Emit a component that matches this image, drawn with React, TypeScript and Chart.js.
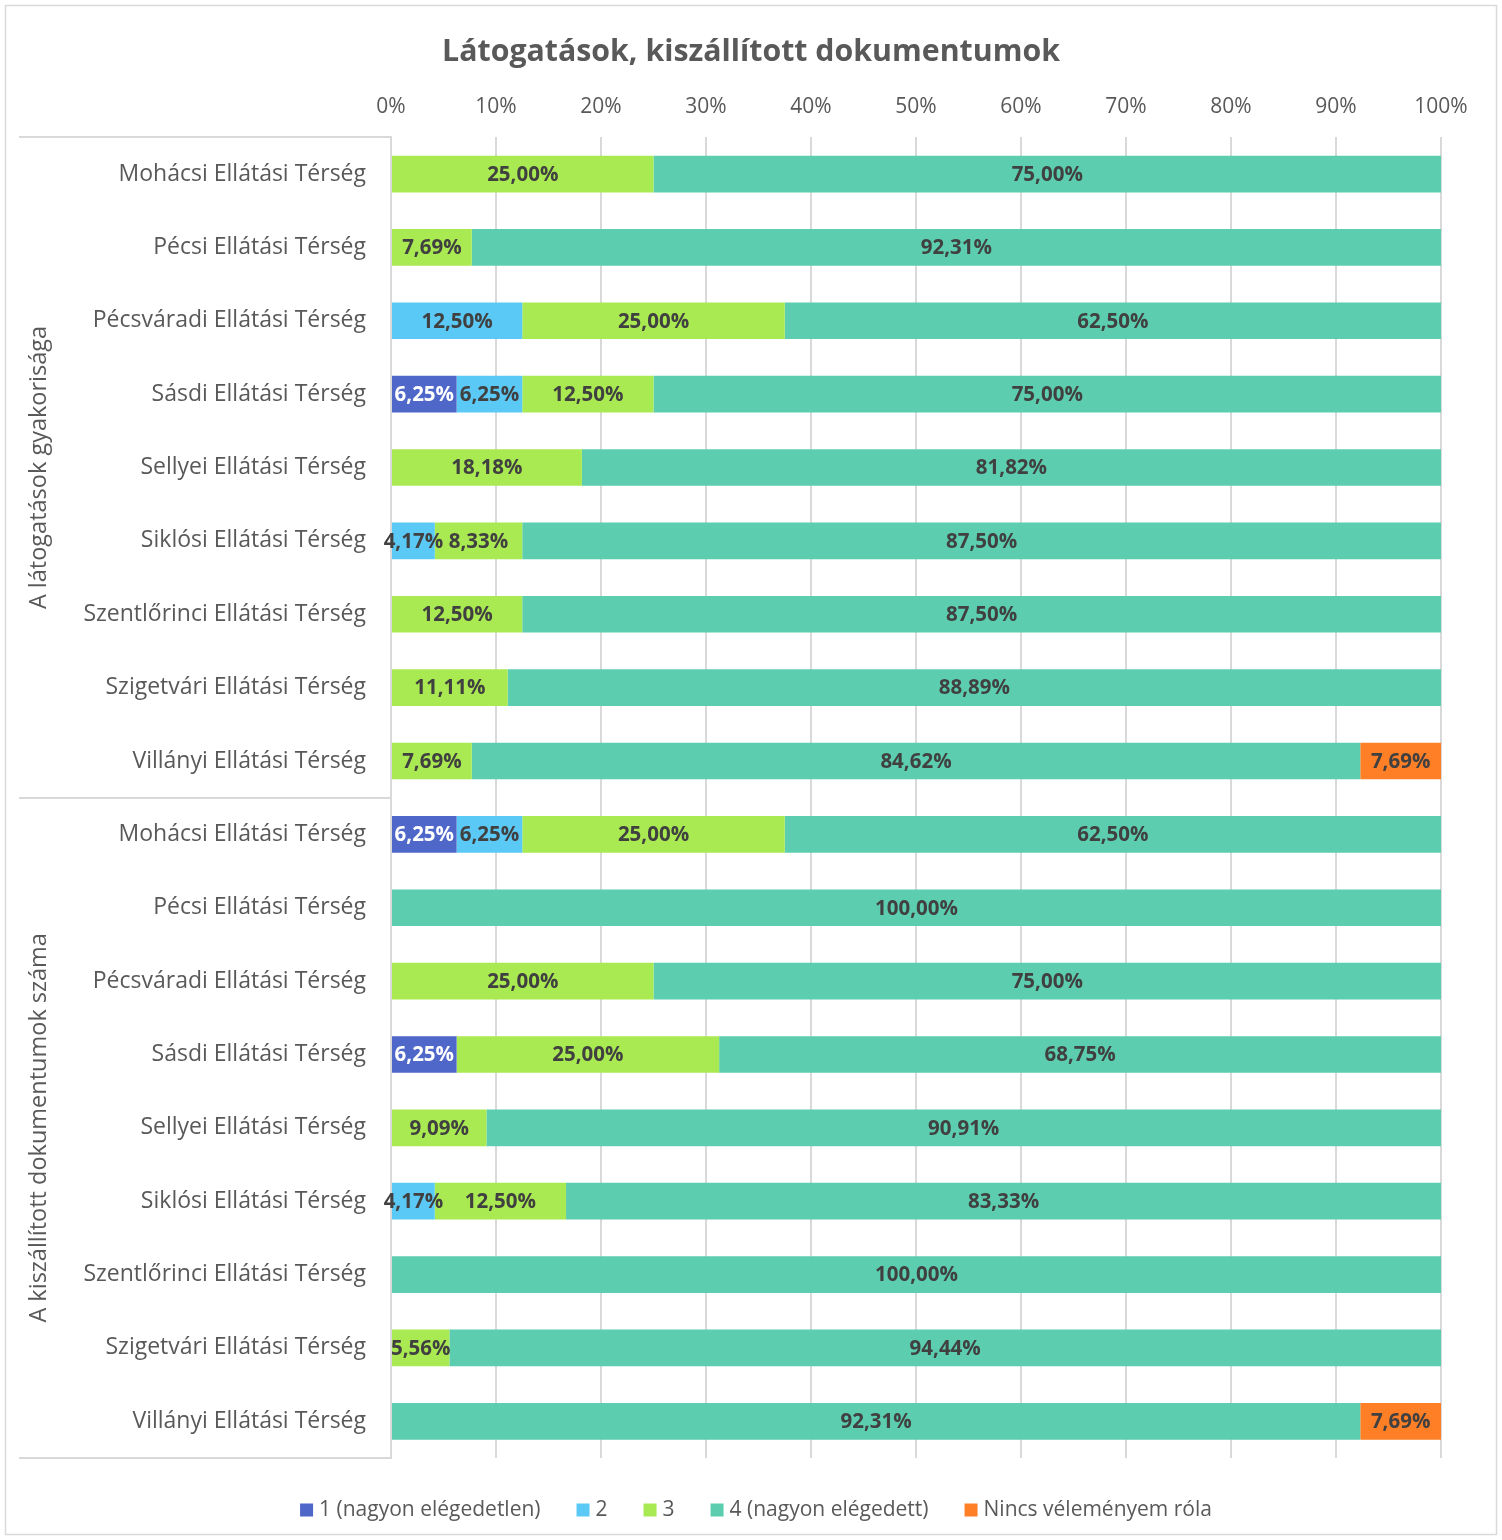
import { useEffect, useRef } from 'react';
import { Chart, registerables } from 'chart.js';

Chart.register(...registerables);

const chartTitle = 'Látogatások, kiszállított dokumentumok';
const categories = [
  'Mohácsi Ellátási Térség',
  'Pécsi Ellátási Térség',
  'Pécsváradi Ellátási Térség',
  'Sásdi Ellátási Térség',
  'Sellyei Ellátási Térség',
  'Siklósi Ellátási Térség',
  'Szentlőrinci Ellátási Térség',
  'Szigetvári Ellátási Térség',
  'Villányi Ellátási Térség',
];
const groups = ['A látogatások gyakorisága', 'A kiszállított dokumentumok száma'];
const labels = [...categories, ...categories];

const seriesNames = ['1 (nagyon elégedetlen)', '2', '3', '4 (nagyon elégedett)', 'Nincs véleményem róla'];
const seriesColors = ['#4F67C8', '#5BC9F5', '#A9E951', '#5CCEAF', '#FF7F27'];
const labelColors = ['#FFFFFF', '#404040', '#404040', '#404040', '#404040'];

const series1 = [0, 0, 0, 6.25, 0, 0, 0, 0, 0, 6.25, 0, 0, 6.25, 0, 0, 0, 0, 0];
const series2 = [0, 0, 12.5, 6.25, 0, 4.17, 0, 0, 0, 6.25, 0, 0, 0, 0, 4.17, 0, 0, 0];
const series3 = [25, 7.69, 25, 12.5, 18.18, 8.33, 12.5, 11.11, 7.69, 25, 0, 25, 25, 9.09, 12.5, 0, 5.56, 0];
const series4 = [75, 92.31, 62.5, 75, 81.82, 87.5, 87.5, 88.89, 84.62, 62.5, 100, 75, 68.75, 90.91, 83.33, 100, 94.44, 92.31];
const series5 = [0, 0, 0, 0, 0, 0, 0, 0, 7.69, 0, 0, 0, 0, 0, 0, 0, 0, 7.69];
const allSeries = [series1, series2, series3, series4, series5];

const FONT = "'Open Sans', 'DejaVu Sans', sans-serif";
const TEXT = '#595959';
const GRID = '#d9d9d9';

const fmt = (v: number) => v.toFixed(2).replace('.', ',') + '%';

const decorPlugin = {
  id: 'decor',
  beforeDraw(chart: any) {
    const { ctx, width, height } = chart;
    ctx.save();
    ctx.fillStyle = '#ffffff';
    ctx.fillRect(0, 0, width, height);
    ctx.strokeStyle = GRID;
    ctx.lineWidth = 1.5;
    ctx.strokeRect(5.5, 5.5, width - 11, height - 11);
    ctx.restore();
  },
  afterDraw(chart: any) {
    const { ctx, chartArea } = chart;
    const y = chart.scales.y;
    const n = labels.length;
    const step = y.getPixelForValue(1) - y.getPixelForValue(0);
    const bounds = [
      y.getPixelForValue(0) - step / 2,
      y.getPixelForValue(categories.length) - step / 2,
      y.getPixelForValue(n - 1) + step / 2,
    ];
    ctx.save();
    // group separators
    ctx.strokeStyle = GRID;
    ctx.lineWidth = 2;
    bounds.forEach((b) => {
      ctx.beginPath();
      ctx.moveTo(19, Math.round(b));
      ctx.lineTo(chartArea.left, Math.round(b));
      ctx.stroke();
    });
    // group labels
    ctx.fillStyle = TEXT;
    ctx.font = `23.5px ${FONT}`;
    ctx.textAlign = 'center';
    ctx.textBaseline = 'middle';
    groups.forEach((g, i) => {
      const cy = (bounds[i] + bounds[i + 1]) / 2;
      ctx.save();
      ctx.translate(39, cy);
      ctx.rotate(-Math.PI / 2);
      ctx.fillText(g, 0, 0);
      ctx.restore();
    });
    // data labels
    ctx.font = `bold 20.5px ${FONT}`;
    chart.data.datasets.forEach((ds: any, i: number) => {
      const meta = chart.getDatasetMeta(i);
      meta.data.forEach((bar: any, j: number) => {
        const v = ds.data[j];
        if (!v) return;
        const p = bar.getProps(['x', 'y', 'base'], true);
        ctx.fillStyle = labelColors[i];
        ctx.fillText(fmt(v), (p.x + p.base) / 2, p.y + 1);
      });
    });
    // legend
    ctx.font = `21px ${FONT}`;
    ctx.textAlign = 'left';
    const box = 13;
    const gapBox = 6;
    const gapItem = 36;
    const widths = seriesNames.map((s) => ctx.measureText(s).width);
    const total = widths.reduce((a, w) => a + box + gapBox + w, 0) + gapItem * (seriesNames.length - 1);
    let x = (chart.width - total) / 2 + 5;
    const ly = 1510;
    seriesNames.forEach((s, i) => {
      ctx.fillStyle = seriesColors[i];
      ctx.fillRect(x, ly - box / 2, box, box);
      ctx.fillStyle = TEXT;
      ctx.fillText(s, x + box + gapBox, ly);
      x += box + gapBox + widths[i] + gapItem;
    });
    ctx.restore();
  },
};

export default function App() {
  const ref = useRef<HTMLCanvasElement | null>(null);
  useEffect(() => {
    document.body.style.margin = '0';
    const canvas = ref.current;
    if (!canvas) return;
    const chart = new Chart(canvas, {
      type: 'bar',
      data: {
        labels,
        datasets: allSeries.map((data, i) => ({
          label: seriesNames[i],
          data,
          backgroundColor: seriesColors[i],
          borderWidth: 0,
          categoryPercentage: 1,
          barPercentage: 0.5,
        })),
      },
      options: {
        indexAxis: 'y',
        animation: false,
        responsive: false,
        maintainAspectRatio: false,
        layout: { padding: { left: 0, right: 0, top: 0, bottom: 82 } },
        plugins: {
          legend: { display: false },
          tooltip: { enabled: false },
          title: {
            display: true,
            text: chartTitle,
            color: TEXT,
            font: { family: FONT, size: 30.3, weight: 'bold' },
            padding: { top: 34, bottom: 17 },
          },
        },
        scales: {
          x: {
            position: 'top',
            stacked: true,
            min: 0,
            max: 100,
            ticks: {
              stepSize: 10,
              color: TEXT,
              font: { family: FONT, size: 21 },
              padding: 18,
              callback: (v: any) => v + '%',
            },
            grid: { color: GRID, lineWidth: 2, drawTicks: false },
            border: { display: false },
            afterFit: (s: any) => {
              s.height = 50;
              s.paddingRight = 61;
              s.paddingLeft = 0;
            },
          },
          y: {
            stacked: true,
            ticks: {
              color: TEXT,
              font: { family: FONT, size: 23 },
              padding: 25,
            },
            grid: { display: false, drawTicks: false },
            border: { display: true, color: GRID, width: 2 },
            afterFit: (s: any) => {
              s.width = 391;
            },
          },
        },
      },
      plugins: [decorPlugin],
    });
    return () => chart.destroy();
  }, []);
  return <canvas ref={ref} width={1502} height={1540} style={{ display: 'block' }} />;
}
